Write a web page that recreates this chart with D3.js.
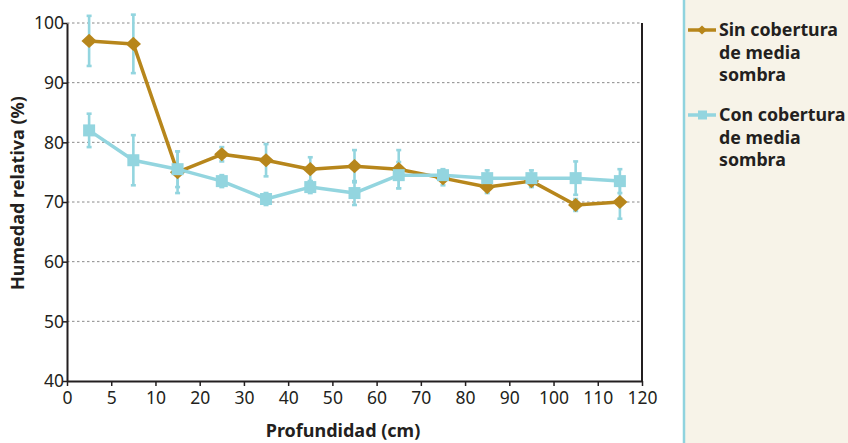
<!DOCTYPE html>
<html>
<head>
<meta charset="utf-8">
<script src="https://cdn.jsdelivr.net/npm/d3@7"></script>
<style>
  html, body { margin: 0; padding: 0; background: #ffffff; }
  svg { display: block; }
  text { font-family: "Noto Sans", "Open Sans", sans-serif; fill: #231f20; }
</style>
</head>
<body>
<svg id="chart" width="848" height="443"></svg>
<script>
// Depth tick labels (cm) — spaced evenly along the axis
const depthTicks = [0, 5, 10, 20, 30, 40, 50, 60, 70, 80, 90, 100, 110, 120];
// Sampling depths (cm), midpoints between ticks
const depths = [2.5, 7.5, 15, 25, 35, 45, 55, 65, 75, 85, 95, 105, 115];

// Relative humidity (%) without shade cover
const sinValues = [97, 96.5, 75, 78, 77, 75.5, 76, 75.5, 74, 72.5, 73.5, 69.5, 70];
const sinErrors = [4.2, 4.9, 3.5, 1.2, 2.7, 2, 2.7, 3.2, 1.2, 1, 1, 1, 2.8];
// Relative humidity (%) with shade cover
const conValues = [82, 77, 75.5, 73.5, 70.5, 72.5, 71.5, 74.5, 74.5, 74, 74, 74, 73.5];
const conErrors = [2.8, 4.2, 3, 1, 1, 1, 2, 2.2, 1, 1.3, 1.3, 2.8, 2];

const yTicks = [40, 50, 60, 70, 80, 90, 100];
const seriesNames = [["Sin cobertura", "de media", "sombra"], ["Con cobertura", "de media", "sombra"]];

const gold = "#b7861b";
const cyan = "#93d5df";
const ink = "#231f20";

const svg = d3.select("#chart");
const plot = { left: 67, right: 642, top: 23, bottom: 381 };

// Legend panel
svg.append("rect").attr("x", 684).attr("y", 0).attr("width", 164).attr("height", 443).attr("fill", "#f7f3e8");
svg.append("line").attr("x1", 684).attr("x2", 684).attr("y1", 0).attr("y2", 443)
  .attr("stroke", "#8fd3de").attr("stroke-width", 2.5);

// Piecewise scale: each tick interval gets equal width
const x = d3.scaleLinear()
  .domain(depthTicks)
  .range(depthTicks.map((d, i) => plot.left + i * (plot.right - plot.left) / (depthTicks.length - 1)));
const y = d3.scaleLinear().domain([40, 100]).range([plot.bottom, plot.top]);

// Grid lines
svg.append("g").selectAll("line").data(yTicks.filter(v => v > 40)).join("line")
  .attr("x1", plot.left).attr("x2", plot.right)
  .attr("y1", d => y(d)).attr("y2", d => y(d))
  .attr("stroke", "#8a8a8a").attr("stroke-width", 1).attr("stroke-dasharray", "2.5,2.5");

// Axes
const xAxis = svg.append("g").attr("transform", `translate(0,${plot.bottom})`)
  .call(d3.axisBottom(x).tickValues(depthTicks).tickFormat(d3.format("d")).tickSize(5).tickSizeOuter(0));
const yAxis = svg.append("g").attr("transform", `translate(${plot.left},0)`)
  .call(d3.axisLeft(y).tickValues(yTicks).tickSize(4).tickSizeOuter(0));
[xAxis, yAxis].forEach(g => {
  g.select(".domain").attr("stroke", ink).attr("stroke-width", 2);
  g.selectAll(".tick line").attr("stroke", ink).attr("stroke-width", 1.5);
  g.selectAll(".tick text").attr("font-size", 17.5).attr("fill", ink)
    .style("font-family", '"Noto Sans", sans-serif');
});
xAxis.selectAll(".tick text").attr("dy", "0.75em").attr("y", 10);
yAxis.selectAll(".tick text").attr("x", -3).attr("dy", "0.33em");
// Right frame line
svg.append("line").attr("x1", plot.right).attr("x2", plot.right).attr("y1", plot.top).attr("y2", plot.bottom)
  .attr("stroke", ink).attr("stroke-width", 2);

// Axis titles
svg.append("text").attr("x", 343).attr("y", 437).attr("text-anchor", "middle")
  .attr("font-size", 18).attr("font-weight", 700).text("Profundidad (cm)");
svg.append("text").attr("transform", "translate(24,193) rotate(-90)").attr("text-anchor", "middle")
  .attr("font-size", 18).attr("font-weight", 700).text("Humedad relativa (%)");

// Error bars (drawn beneath the markers)
const errG = svg.append("g");
function errorBars(vals, errs) {
  depths.forEach((d, i) => {
    const cx = x(d), y1 = y(vals[i] + errs[i]), y2 = y(vals[i] - errs[i]);
    errG.append("line").attr("x1", cx).attr("x2", cx).attr("y1", y1).attr("y2", y2)
      .attr("stroke", cyan).attr("stroke-width", 2.6);
    [y1, y2].forEach(yy => errG.append("line").attr("x1", cx - 2.5).attr("x2", cx + 2.5)
      .attr("y1", yy).attr("y2", yy).attr("stroke", cyan).attr("stroke-width", 2.6));
  });
}
errorBars(sinValues, sinErrors);
errorBars(conValues, conErrors);

const line = d3.line().x(d => x(d[0])).y(d => y(d[1]));

// Series without cover: gold diamonds
svg.append("path").datum(depths.map((d, i) => [d, sinValues[i]]))
  .attr("d", line).attr("fill", "none").attr("stroke", gold).attr("stroke-width", 3.5)
  .attr("stroke-linejoin", "round");
const diamond = d3.symbol().type(d3.symbolDiamond2).size(128);
svg.append("g").selectAll("path").data(depths.map((d, i) => [d, sinValues[i]])).join("path")
  .attr("d", diamond).attr("transform", d => `translate(${x(d[0])},${y(d[1])}) scale(1.08,1)`)
  .attr("fill", gold);

// Series with cover: cyan squares
svg.append("path").datum(depths.map((d, i) => [d, conValues[i]]))
  .attr("d", line).attr("fill", "none").attr("stroke", cyan).attr("stroke-width", 3.5)
  .attr("stroke-linejoin", "round");
svg.append("g").selectAll("rect").data(depths.map((d, i) => [d, conValues[i]])).join("rect")
  .attr("x", d => x(d[0]) - 6).attr("y", d => y(d[1]) - 6)
  .attr("width", 12).attr("height", 12).attr("fill", cyan);

// Legend
const legend = svg.append("g");
[[gold, "diamond", 30], [cyan, "square", 115]].forEach(([c, shape, ly], k) => {
  legend.append("line").attr("x1", 688).attr("x2", 716).attr("y1", ly).attr("y2", ly)
    .attr("stroke", c).attr("stroke-width", 3.5);
  if (shape === "diamond") {
    legend.append("path").attr("d", d3.symbol().type(d3.symbolDiamond2).size(50))
      .attr("transform", `translate(702,${ly}) scale(1.1,1)`).attr("fill", c);
  } else {
    legend.append("rect").attr("x", 698).attr("y", ly - 4.5).attr("width", 9).attr("height", 9).attr("fill", c);
  }
  seriesNames[k].forEach((t, j) => {
    legend.append("text").attr("x", 719).attr("y", ly + 6 + j * 22.5)
      .attr("font-size", 17.8).attr("font-weight", 700).text(t);
  });
});
</script>
</body>
</html>
